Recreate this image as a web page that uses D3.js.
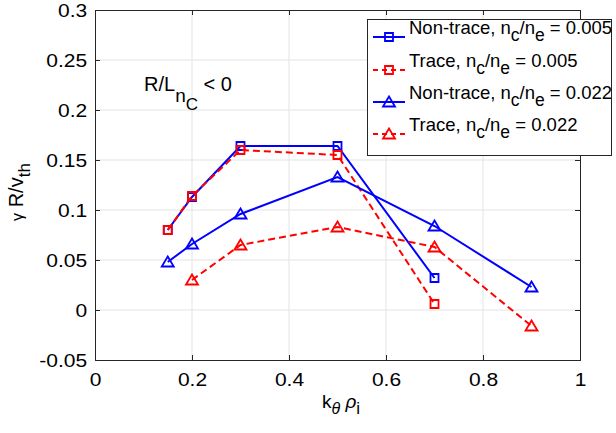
<!DOCTYPE html>
<html>
<head>
<meta charset="utf-8">
<script src="https://cdn.jsdelivr.net/npm/d3@7"></script>
<style>
body { margin: 0; background: #fff; }
svg text { font-family: "Liberation Sans", Arial, Helvetica, sans-serif; fill: #000; }
</style>
</head>
<body>
<script>
// data
var xSquares = [0.15, 0.2, 0.3, 0.5, 0.7];
var nonTrace005 = [0.080, 0.113, 0.164, 0.164, 0.032];
var trace005 = [0.080, 0.114, 0.160, 0.155, 0.006];
var xTriBlue = [0.15, 0.2, 0.3, 0.5, 0.7, 0.9];
var nonTrace022 = [0.048, 0.066, 0.096, 0.133, 0.084, 0.023];
var xTriRed = [0.2, 0.3, 0.5, 0.7, 0.9];
var trace022 = [0.030, 0.065, 0.083, 0.063, -0.016];

var xTicks = [0, 0.2, 0.4, 0.6, 0.8, 1];
var xTickLabels = ["0", "0.2", "0.4", "0.6", "0.8", "1"];
var yTicks = [-0.05, 0, 0.05, 0.1, 0.15, 0.2, 0.25, 0.3];
var yTickLabels = ["-0.05", "0", "0.05", "0.1", "0.15", "0.2", "0.25", "0.3"];

var legendNames = [
    ["Non-trace, n", "c", "/n", "e", " = 0.005"],
    ["Trace, n", "c", "/n", "e", " = 0.005"],
    ["Non-trace, n", "c", "/n", "e", " = 0.022"],
    ["Trace, n", "c", "/n", "e", " = 0.022"]
];

var series = [
    { x: xSquares, y: nonTrace005, color: "#0000ff", dash: null, marker: "square" },
    { x: xSquares, y: trace005, color: "#ff0000", dash: "7,4", marker: "square" },
    { x: xTriBlue, y: nonTrace022, color: "#0000ff", dash: null, marker: "triangle" },
    { x: xTriRed, y: trace022, color: "#ff0000", dash: "7,4", marker: "triangle" }
];

var width = 616, height = 433;
var plotLeft = 95, plotRight = 580, plotTop = 10, plotBottom = 360;
var stretch = 1.2;

var svg = d3.select("body").append("svg")
    .attr("width", width)
    .attr("height", height);

var x = d3.scaleLinear().domain([0, 1]).range([plotLeft, plotRight]);
var y = d3.scaleLinear().domain([-0.05, 0.3]).range([plotBottom, plotTop]);

// grid
svg.append("g").selectAll("line").data(xTicks.slice(1, -1)).enter().append("line")
    .attr("x1", d => x(d)).attr("x2", d => x(d))
    .attr("y1", plotTop).attr("y2", plotBottom)
    .attr("stroke", "#e3e3e3").attr("stroke-width", 1);
svg.append("g").selectAll("line").data(yTicks.slice(1, -1)).enter().append("line")
    .attr("x1", plotLeft).attr("x2", plotRight)
    .attr("y1", d => y(d)).attr("y2", d => y(d))
    .attr("stroke", "#e3e3e3").attr("stroke-width", 1);

// axes
var xAxis = svg.append("g")
    .attr("transform", "translate(0," + plotBottom + ")")
    .call(d3.axisBottom(x).tickValues(xTicks).tickSize(-5).tickPadding(14)
        .tickFormat((d, i) => xTickLabels[i]));
var yAxis = svg.append("g")
    .attr("transform", "translate(" + plotLeft + ",0)")
    .call(d3.axisLeft(y).tickValues(yTicks).tickSize(-5).tickPadding(6.5)
        .tickFormat((d, i) => yTickLabels[i]));
svg.append("g")
    .attr("transform", "translate(0," + plotTop + ")")
    .call(d3.axisTop(x).tickValues(xTicks).tickSize(-5).tickFormat(""));
svg.append("g")
    .attr("transform", "translate(" + plotRight + ",0)")
    .call(d3.axisRight(y).tickValues(yTicks).tickSize(-5).tickFormat(""));

svg.selectAll(".domain").attr("stroke", "#262626").attr("stroke-width", 1);
svg.selectAll(".tick line").attr("stroke", "#262626");
svg.selectAll(".tick text")
    .attr("font-size", "17.5px")
    .attr("font-family", "Liberation Sans, Arial, sans-serif")
    .attr("fill", "#262626")
    .attr("transform", "scale(" + stretch + ",1)");
yAxis.selectAll(".tick text").attr("dy", "0.36em");

// markers
function markerPath(type) {
    if (type == "square") return "M-4,-4H4V4H-4Z";
    return "M0,-5.5L6,4.5H-6Z";
}

var line = d3.line().x(d => x(d[0])).y(d => y(d[1]));

series.forEach(function(s) {
    var pts = s.x.map((v, i) => [v, s.y[i]]);
    svg.append("path")
        .datum(pts)
        .attr("d", line)
        .attr("fill", "none")
        .attr("stroke", s.color)
        .attr("stroke-width", 2)
        .attr("stroke-dasharray", s.dash);
    svg.append("g").selectAll("path").data(pts).enter().append("path")
        .attr("d", markerPath(s.marker))
        .attr("transform", d => "translate(" + x(d[0]) + "," + y(d[1]) + ")")
        .attr("fill", "none")
        .attr("stroke", s.color)
        .attr("stroke-width", 1.8);
});

// annotation R/L_nC < 0
var note = svg.append("text")
    .attr("x", 144).attr("y", 91)
    .attr("font-size", "20px");
note.append("tspan").text("R/L");
note.append("tspan").attr("dy", 11).attr("font-size", "19px").text("n");
note.append("tspan").attr("dy", 8).attr("font-size", "17px").text("C");
note.append("tspan").attr("dy", -19).text(" < 0");

// x label
var xl = svg.append("text")
    .attr("x", 341).attr("y", 408)
    .attr("text-anchor", "middle")
    .attr("font-size", "19px");
xl.append("tspan").text("k");
xl.append("tspan").attr("dy", 6).attr("font-size", "16px").attr("font-style", "italic").text("θ");
xl.append("tspan").attr("dy", -6).text(" ");
xl.append("tspan").attr("font-style", "italic").text("ρ");
xl.append("tspan").attr("dy", 6).attr("font-size", "17px").text("i");

// y label
var yl = svg.append("text")
    .attr("transform", "translate(23,192) rotate(-90)")
    .attr("text-anchor", "middle")
    .attr("font-size", "20px");
yl.append("tspan").attr("font-size", "16px").text("γ");
yl.append("tspan").text(" R/v");
yl.append("tspan").attr("dy", 7).attr("font-size", "17px").text("th");

// legend
var lg = svg.append("g");
lg.append("rect")
    .attr("x", 367.5).attr("y", 19.5)
    .attr("width", 244).attr("height", 136)
    .attr("fill", "#fff")
    .attr("stroke", "#262626")
    .attr("stroke-width", 1);

var rowY = [37, 70, 102, 134];
series.forEach(function(s, i) {
    var ry = rowY[i];
    lg.append("line")
        .attr("x1", 373).attr("x2", 405)
        .attr("y1", ry).attr("y2", ry)
        .attr("stroke", s.color).attr("stroke-width", 2)
        .attr("stroke-dasharray", s.dash ? "5,4" : null);
    lg.append("path")
        .attr("d", markerPath(s.marker))
        .attr("transform", "translate(389," + ry + ")")
        .attr("fill", "none")
        .attr("stroke", s.color)
        .attr("stroke-width", 1.8);
    var parts = legendNames[i];
    var t = lg.append("text")
        .attr("x", 409).attr("y", ry - 3)
        .attr("font-size", "18.5px");
    t.append("tspan").text(parts[0]);
    t.append("tspan").attr("dy", 7).attr("font-size", "17.5px").text(parts[1]);
    t.append("tspan").attr("dy", -7).text(parts[2]);
    t.append("tspan").attr("dy", 7).attr("font-size", "17.5px").text(parts[3]);
    t.append("tspan").attr("dy", -7).text(parts[4]);
});
</script>
</body>
</html>
